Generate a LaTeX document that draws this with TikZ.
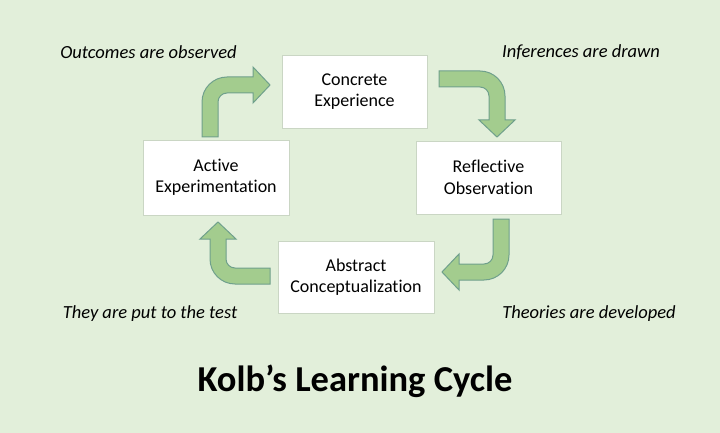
\documentclass[tikz,border=0pt]{standalone}
\usepackage{fontspec}
\setmainfont{Carlito}[Ligatures=NoCommon]
\definecolor{bgc}{HTML}{E2EFDA}
\definecolor{arrowfill}{HTML}{A3CC8E}
\definecolor{arrowline}{HTML}{6FA08C}
\definecolor{boxline}{HTML}{CAD6C4}
\tikzset{
  stagebox/.style={draw=boxline, line width=0.8pt, fill=white, inner sep=0pt, align=center, font=\fontsize{18}{21.5}\selectfont},
  bentarrow/.style={fill=arrowfill, draw=arrowline, line width=1pt, line join=miter},
  caption/.style={font=\fontsize{18.5}{21}\selectfont\itshape, inner sep=0pt},
  titletext/.style={font=\fontsize{36.5}{40}\selectfont\bfseries, inner sep=0pt}
}
\begin{document}
\begin{tikzpicture}[x=1pt,y=-1pt]
\fill[bgc] (0,0) rectangle (720,433);
\useasboundingbox (0,0) rectangle (720,433);

% boxes
\node[stagebox, minimum width=145pt, minimum height=73pt] (ce) at (354.5,91.5) {Concrete\\Experience};
\node[stagebox, minimum width=146pt, minimum height=75pt] (ae) at (216,177.5) {Active\\Experimentation};
\node[stagebox, minimum width=145pt, minimum height=73pt] (ro) at (488.5,177.5) {Reflective\\Observation};
\node[stagebox, minimum width=156pt, minimum height=72pt] (ac) at (356,277) {Abstract\\Conceptualization};

% bent arrows
% top-left: AE -> CE
\draw[bentarrow] (202,137) -- (202,102) .. controls (202,88.2) and (213.2,77) .. (227,77)
  -- (253,77) -- (253,67) -- (270,85) -- (253,103) -- (253,93) -- (227,93)
  .. controls (222,93) and (218,97) .. (218,102) -- (218,137) -- cycle;
% top-right: CE -> RO
\draw[bentarrow] (439,71) -- (480,71) .. controls (493.8,71) and (505,82.2) .. (505,96)
  -- (505,120) -- (515,120) -- (497,137) -- (479,120) -- (489,120) -- (489,96)
  .. controls (489,91) and (485,87) .. (480,87) -- (439,87) -- cycle;
% bottom-right: RO -> AC
\draw[bentarrow] (493,219) -- (509,219) -- (509,255) .. controls (509,268.8) and (497.8,280) .. (484,280)
  -- (459,280) -- (459,290) -- (442,272) -- (459,254) -- (459,264) -- (484,264)
  .. controls (489,264) and (493,260) .. (493,255) -- cycle;
% bottom-left: AC -> AE
\draw[bentarrow] (270,268) -- (235,268) .. controls (230,268) and (226,264) .. (226,259)
  -- (226,239) -- (236,239) -- (218,222) -- (200,239) -- (210,239) -- (210,259)
  .. controls (210,272.8) and (221.2,284) .. (235,284) -- (270,284) -- cycle;

% captions
\node[caption] (c1) at (148.5,52) {Outcomes are observed};
\node[caption] (c2) at (581,52) {Inferences are drawn};
\node[caption] (c3) at (150,314) {They are put to the test};
\node[caption] (c4) at (589,314) {Theories are developed};

% title
\node[titletext] (title) at (355,381) {Kolb’s Learning Cycle};
\end{tikzpicture}
\end{document}
